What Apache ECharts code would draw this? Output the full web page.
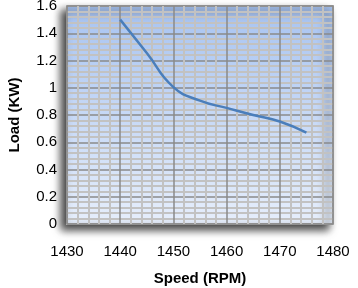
<!DOCTYPE html>
<html><head><meta charset="utf-8">
<script src="https://cdn.jsdelivr.net/npm/echarts@6/dist/echarts.min.js"></script>
<style>html,body{margin:0;padding:0;background:#fff}#c{width:358px;height:288px}</style>
</head><body><div id="c"></div>
<script>
var speed = [1440, 1445, 1450, 1455, 1460, 1465, 1470, 1475];
var load  = [1.50, 1.255, 1.005, 0.905, 0.852, 0.80, 0.752, 0.67];
var xTitle = 'Speed (RPM)';
var yTitle = 'Load (KW)';

var chart = echarts.init(document.getElementById('c'), null, {renderer:'canvas'});
var font = 'Liberation Sans';
chart.setOption({
  animation:false,
  grid:{left:67,right:25,top:6,bottom:64,show:true,outerBoundsMode:'none',containLabel:false,
    backgroundColor:new echarts.graphic.LinearGradient(0,0,0,1,[{offset:0,color:'#a7c3f1'},{offset:1,color:'#e6eefb'}]),
    borderColor:'#a8a8a8',borderWidth:2,
    shadowColor:'rgba(0,0,0,0.75)',shadowBlur:8,shadowOffsetX:-5,shadowOffsetY:5},
  xAxis:{type:'value',min:1430,max:1480,interval:10,
    name:xTitle,nameLocation:'middle',nameGap:47,
    nameTextStyle:{fontFamily:font,fontWeight:'bold',fontSize:15,color:'#000'},
    axisLine:{show:false},axisTick:{show:false},
    axisLabel:{fontFamily:font,fontSize:15,color:'#000',margin:20,
      formatter:function(v){return String(v);}},
    splitLine:{show:true,lineStyle:{color:'#8a8a8a',width:1.5}},
    minorTick:{show:false,splitNumber:5},
    minorSplitLine:{show:true,lineStyle:{color:'#c2c2c2',width:2}}},
  yAxis:{type:'value',min:0,max:1.6,interval:0.2,
    name:yTitle,nameLocation:'middle',nameGap:45,
    nameTextStyle:{fontFamily:font,fontWeight:'bold',fontSize:15,color:'#000'},
    axisLine:{show:false},axisTick:{show:false},
    axisLabel:{fontFamily:font,fontSize:15,color:'#000',margin:10,
      formatter:function(v){return String(Math.round(v*10)/10);}},
    splitLine:{show:true,lineStyle:{color:'#8a8a8a',width:1.5}},
    minorTick:{show:false,splitNumber:5},
    minorSplitLine:{show:true,lineStyle:{color:'#c2c2c2',width:2}}},
  series:[{type:'line',smooth:0.5,symbol:'none',
    data:speed.map(function(s,i){return [s,load[i]];}),
    lineStyle:{color:'#4a7ebb',width:2.5}}]
});
</script></body></html>
